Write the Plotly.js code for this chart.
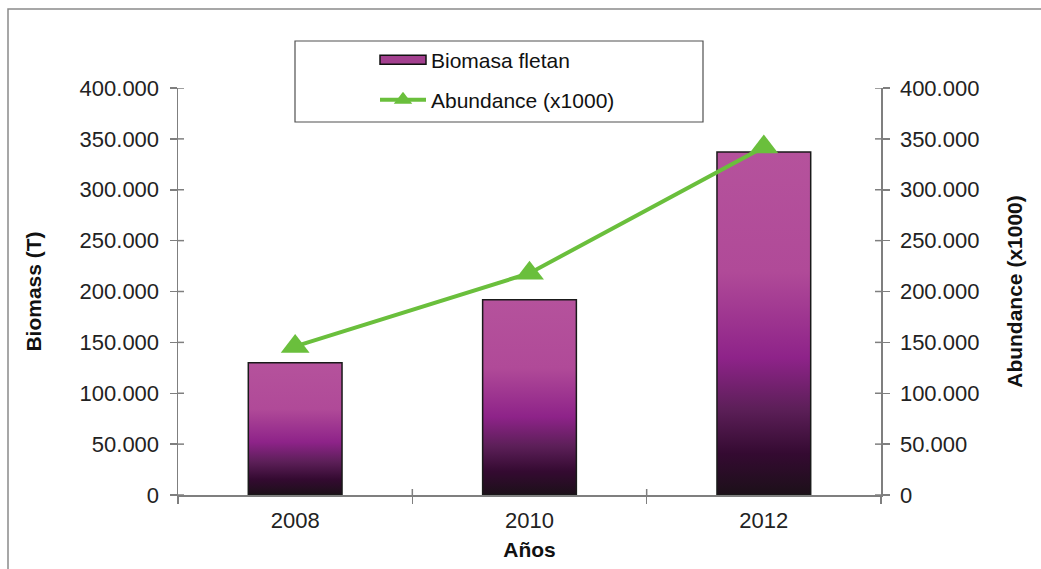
<!DOCTYPE html>
<html>
<head>
<meta charset="utf-8">
<script src="https://cdn.plot.ly/plotly-3.0.1.min.js"></script>
<style>
html,body{margin:0;padding:0;background:#fff;}
#chart{width:1041px;height:569px;}
</style>
</head>
<body>
<div id="chart"></div>
<script>
// Data
const years = ['2008', '2010', '2012'];
const biomasa = [130000, 192000, 337000];
const abundance = [146000, 218000, 342000];
const biomasaName = 'Biomasa fletan';
const abundanceName = 'Abundance (x1000)';
const yTickVals = [0, 50000, 100000, 150000, 200000, 250000, 300000, 350000, 400000];
const xBoundaries = [0.5, 1.5];

const FONT = 'Liberation Sans, Arial, sans-serif';
const AXC = '#7f7f7f';

const traces = [
  {
    type: 'bar', x: years, y: biomasa, name: biomasaName,
    width: 0.4,
    marker: {color: '#a8448f', line: {color: '#1a1a1a', width: 1.5}},
    legend: 'legend',
    hoverinfo: 'skip'
  },
  {
    type: 'scatter', mode: 'lines+markers', x: years, y: abundance, name: abundanceName,
    yaxis: 'y2',
    line: {color: '#6abf3c', width: 4},
    marker: {symbol: 'triangle-up', size: 25, color: '#6abf3c'},
    legend: 'legend2',
    hoverinfo: 'skip'
  }
];

const L = 178, R = 881, T = 88, B = 495, W = 1041, H = 569;
const px = v => (v - L) / (R - L);
const py = v => (B - v) / (B - T);
const TF = {family: FONT, size: 22, color: '#222'};
const TITF = {family: FONT, size: 21, color: '#111'};

// inner halves of the cross-shaped ticks
const tickShapes = [];
yTickVals.forEach(v => {
  tickShapes.push({type: 'line', xref: 'paper', yref: 'y', x0: 0, x1: 6 / (R - L), y0: v, y1: v,
    line: {color: AXC, width: 1.5}, layer: 'above'});
  tickShapes.push({type: 'line', xref: 'paper', yref: 'y', x0: 1, x1: 1 - 6 / (R - L), y0: v, y1: v,
    line: {color: AXC, width: 1.5}, layer: 'above'});
});
xBoundaries.forEach(v => {
  tickShapes.push({type: 'line', xref: 'x', yref: 'paper', x0: v, x1: v, y0: 0, y1: 6 / (B - T),
    line: {color: AXC, width: 1.5}, layer: 'above'});
});

const layout = {
  width: W, height: H,
  margin: {l: L, r: W - R, t: T, b: H - B, pad: 0},
  paper_bgcolor: '#ffffff', plot_bgcolor: 'rgba(0,0,0,0)',
  separators: ',.',
  font: {family: FONT, size: 20, color: '#222'},
  showlegend: true,
  xaxis: {
    type: 'category', tickson: 'boundaries', range: [-0.5, 2.5],
    showline: true, linecolor: AXC, linewidth: 1.5,
    ticks: 'outside', ticklen: 7, tickcolor: AXC, tickwidth: 1.5,
    showgrid: false, zeroline: false,
    tickfont: TF, ticklabelstandoff: 5,
    title: {text: '<b>Años</b>', font: TITF, standoff: 10}
  },
  yaxis: {
    range: [0, 400000], tickvals: yTickVals, tickformat: ',d',
    showline: true, linecolor: AXC, linewidth: 1.5,
    ticks: 'outside', ticklen: 7, tickcolor: AXC, tickwidth: 1.5,
    showgrid: false, zeroline: false,
    tickfont: TF, ticklabelstandoff: 6,
    title: {text: '<b>Biomass (T)</b>', font: TITF, standoff: 32}
  },
  yaxis2: {
    overlaying: 'y', side: 'right', anchor: 'x',
    range: [0, 400000], tickvals: yTickVals, tickformat: ',d',
    showline: true, linecolor: AXC, linewidth: 1.5,
    ticks: 'outside', ticklen: 7, tickcolor: AXC, tickwidth: 1.5,
    showgrid: false, zeroline: false,
    tickfont: TF, ticklabelstandoff: 6,
    title: {text: '<b>Abundance (x1000)</b>', font: TITF, standoff: 29}
  },
  legend: {
    x: px(375), xanchor: 'left', y: py(60), yanchor: 'middle',
    bgcolor: 'rgba(0,0,0,0)', borderwidth: 0, itemwidth: 46,
    font: {family: FONT, size: 21, color: '#111'}
  },
  legend2: {
    x: px(375), xanchor: 'left', y: py(100), yanchor: 'middle',
    bgcolor: 'rgba(0,0,0,0)', borderwidth: 0, itemwidth: 46,
    font: {family: FONT, size: 21, color: '#111'}
  },
  shapes: [
    {type: 'rect', xref: 'paper', yref: 'paper', x0: px(8), x1: px(1060), y0: py(9), y1: py(600),
     line: {color: '#8a8a8a', width: 1.5}, fillcolor: 'rgba(0,0,0,0)', layer: 'below'},
    {type: 'rect', xref: 'paper', yref: 'paper', x0: px(295), x1: px(703), y0: py(41), y1: py(122),
     line: {color: '#505050', width: 1.2}, fillcolor: 'rgba(0,0,0,0)', layer: 'below'}
  ].concat(tickShapes)
};

Plotly.newPlot('chart', traces, layout, {displayModeBar: false, staticPlot: true}).then(gd => {
  const svg = gd.querySelector('.main-svg');
  const NS = 'http://www.w3.org/2000/svg';
  const defs = svg.querySelector('defs');
  const grad = document.createElementNS(NS, 'linearGradient');
  grad.setAttribute('id', 'barGrad');
  grad.setAttribute('x1', '0'); grad.setAttribute('y1', '0');
  grad.setAttribute('x2', '0'); grad.setAttribute('y2', '1');
  const stops = [[0, '#b5529c'], [0.35, '#b04a98'], [0.6, '#8e2389'], [0.75, '#5c1f58'], [0.88, '#340a31'], [1, '#1c1019']];
  stops.forEach(([o, c]) => {
    const s = document.createElementNS(NS, 'stop');
    s.setAttribute('offset', o); s.setAttribute('stop-color', c);
    grad.appendChild(s);
  });
  defs.appendChild(grad);
  gd.querySelectorAll('.trace.bars .point path').forEach(p => { p.style.fill = 'url(#barGrad)'; });
  // wide legend swatch for the bar series
  gd.querySelectorAll('g.legendpoints').forEach(g => {
    const trace = g.closest('g.traces');
    if (!trace) return;
    const txt = trace.querySelector('text.legendtext');
    if (!txt || txt.textContent !== biomasaName) return;
    g.querySelectorAll('path').forEach(p => {
      p.setAttribute('d', 'M-23,-4.5H23V4.5H-23Z');
      p.style.fill = '#a3408f';
      p.style.stroke = '#111';
      p.style.strokeWidth = '1.5px';
    });
  });
});
</script>
</body>
</html>
